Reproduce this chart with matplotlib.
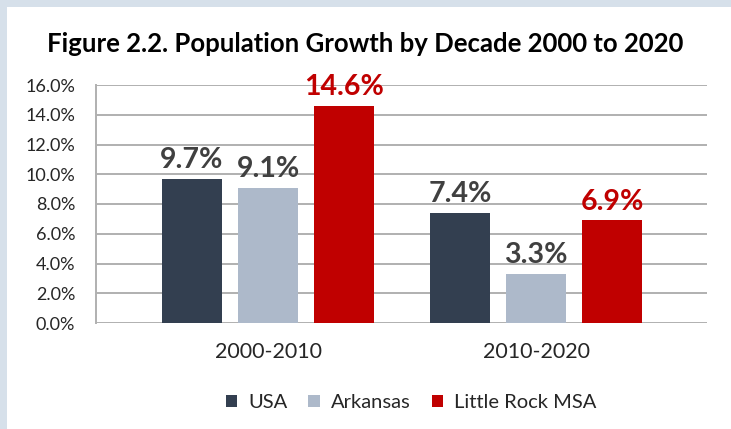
import matplotlib.pyplot as plt
import matplotlib.patches as mpatches
import numpy as np

decades = ["2000-2010", "2010-2020"]
usa = [9.7, 7.4]
arkansas = [9.1, 3.3]
little_rock = [14.6, 6.9]
series_names = ["USA", "Arkansas", "Little Rock MSA"]
colors = ["#333f50", "#adb9ca", "#c00000"]
label_colors = ["#404040", "#404040", "#c00000"]
yticks = [0, 2, 4, 6, 8, 10, 12, 14, 16]

body_font = ["Lato", "DejaVu Sans"]
title_font = ["Lato", "DejaVu Sans"]

fig = plt.figure(figsize=(7.31, 4.29), dpi=100)
fig.patch.set_facecolor("white")

# light blue frame strip along top and left
fig.add_artist(mpatches.Rectangle((0, 1 - 7 / 429), 1, 7 / 429, transform=fig.transFigure,
                                  color="#d6e0ea", lw=0, zorder=0))
fig.add_artist(mpatches.Rectangle((0, 0), 7 / 731, 1, transform=fig.transFigure,
                                  color="#d6e0ea", lw=0, zorder=0))

ax = fig.add_axes([96 / 731, 1 - 323 / 429, (707 - 96) / 731, (323 - 85) / 429])

x = np.arange(len(decades))
width = 0.224
step = 0.284
for i, (vals, name, c, lc) in enumerate(zip([usa, arkansas, little_rock], series_names, colors, label_colors)):
    bars = ax.bar(x + (i - 1) * step, vals, width, color=c, label=name, zorder=3)
    for b, v in zip(bars, vals):
        ax.annotate(f"{v:.1f}%", (b.get_x() + b.get_width() / 2, v), xytext=(0, 4),
                    textcoords="offset points", ha="center", va="bottom",
                    fontsize=20.5, fontweight="bold", color=lc, family=body_font, zorder=4)

ax.set_xlim(-0.642, 1.638)
ax.set_ylim(0, 16)
ax.set_yticks(yticks)
ax.set_yticklabels([f"{t:.1f}%" for t in yticks], fontsize=13, color="#262626", family=body_font)
ax.set_xticks(x)
ax.set_xticklabels(decades, fontsize=15.5, color="#262626", family=body_font)
ax.tick_params(axis="both", length=0)
ax.tick_params(axis="y", pad=15)
ax.tick_params(axis="x", pad=14)

ax.grid(axis="y", color="#b0b0b0", lw=1.4, zorder=0)
for s in ["top", "right", "bottom"]:
    ax.spines[s].set_visible(False)
ax.spines["left"].set_color("#b0b0b0")
ax.spines["left"].set_linewidth(1.4)

fig.text(365 / 731, 1 - 44 / 429, "Figure 2.2. Population Growth by Decade 2000 to 2020",
         ha="center", va="center", fontsize=18.5, fontweight="bold",
         family=title_font, color="black")

fig.legend(loc="center", bbox_to_anchor=(411 / 731, 1 - 403 / 429), ncol=3, frameon=False,
           prop={"family": body_font, "size": 14.5}, handlelength=0.55, handleheight=0.55,
           handletextpad=0.55, columnspacing=1.05, labelcolor="#262626")

fig.savefig("out.png", dpi=100)
